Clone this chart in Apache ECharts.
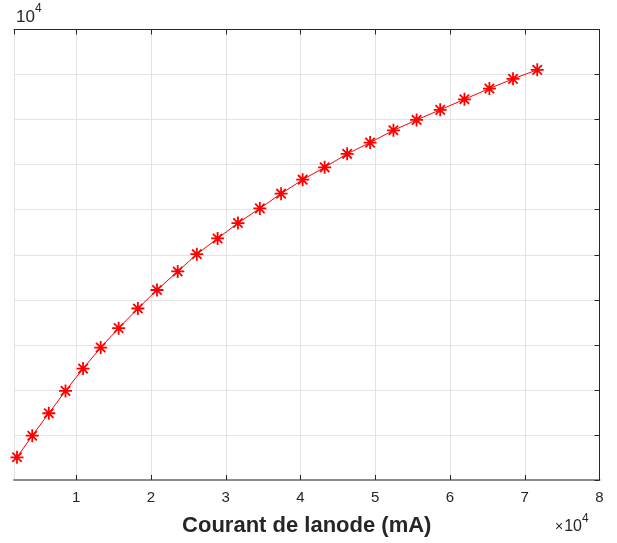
<!DOCTYPE html>
<html>
<head>
<meta charset="utf-8">
<script src="https://cdn.jsdelivr.net/npm/echarts@6/dist/echarts.min.js"></script>
<style>
html,body{margin:0;padding:0;background:#fff;}
#chart{width:617px;height:543px;}
</style>
</head>
<body>
<div id="chart"></div>
<script>
// x values (×10^4) and y values (grid units, ×10^4)
const xValues = [0.207, 0.411, 0.633, 0.856, 1.091, 1.327, 1.567, 1.824, 2.080, 2.357, 2.613, 2.891, 3.163,
  3.456, 3.740, 4.029, 4.323, 4.624, 4.931, 5.243, 5.553, 5.869, 6.193, 6.527, 6.843, 7.167];
const yValues = [0.504, 0.984, 1.482, 1.978, 2.473, 2.940, 3.371, 3.807, 4.218, 4.629, 5.013, 5.362, 5.704,
  6.029, 6.356, 6.667, 6.940, 7.240, 7.489, 7.762, 7.993, 8.216, 8.451, 8.689, 8.904, 9.104];
const xRange = [0.167, 8];
const yRange = [0, 10];
const xTitle = 'Courant de lanode (mA)';

const chart = echarts.init(document.getElementById('chart'), null, {renderer: 'canvas'});
const font = "'Liberation Sans', Arial, Helvetica, sans-serif";
const dark = '#262626';
const gridCol = '#e3e3e3';
const star = 'path://M0,-6L0,6M-6,0L6,0M-4.3,-4.3L4.3,4.3M-4.3,4.3L4.3,-4.3';

chart.setOption({
  animation: false,
  backgroundColor: '#fff',
  grid: {left: 14, right: 17.5, top: 29.5, bottom: 63, containLabel: false},
  xAxis: [{
    type: 'value', position: 'bottom', min: xRange[0], max: xRange[1], splitNumber: 8,
    axisLine: {show: true, lineStyle: {color: '#8c8c8c', width: 2}},
    axisTick: {show: true, inside: true, length: 5, lineStyle: {color: dark, width: 1}},
    axisLabel: {show: true, showMinLabel: false, margin: 10, color: dark, fontFamily: font, fontSize: 15,
      formatter: v => (Math.abs(v - Math.round(v)) < 1e-6 ? String(Math.round(v)) : '')},
    splitLine: {show: true, lineStyle: {color: gridCol, width: 1}},
    name: xTitle, nameLocation: 'middle', nameGap: 35,
    nameTextStyle: {color: dark, fontFamily: font, fontSize: 22, fontWeight: 'bold'}
  }, {
    type: 'value', position: 'top', min: xRange[0], max: xRange[1], splitNumber: 8,
    axisLine: {show: true, onZero: false, lineStyle: {color: dark, width: 1}},
    axisTick: {show: true, inside: true, length: 5, lineStyle: {color: dark}},
    axisLabel: {show: false}, splitLine: {show: false}
  }],
  yAxis: [{
    type: 'value', position: 'left', min: yRange[0], max: yRange[1], interval: 1,
    axisLine: {show: false}, axisTick: {show: false}, axisLabel: {show: false},
    splitLine: {show: true, lineStyle: {color: gridCol, width: 1}}
  }, {
    type: 'value', position: 'right', min: yRange[0], max: yRange[1], interval: 1,
    axisLine: {show: true, onZero: false, lineStyle: {color: dark, width: 1}},
    axisTick: {show: true, inside: true, length: 5, lineStyle: {color: dark}},
    axisLabel: {show: false}, splitLine: {show: false}
  }],
  graphic: [
    {type: 'text', left: 16, top: 3, style: {
      text: '{b|10}{s|4}',
      rich: {b: {fontSize: 17, fontFamily: font, fill: dark, padding: [6, 0, 0, 0]},
             s: {fontSize: 12, fontFamily: font, fill: dark, verticalAlign: 'top'}}}},
    {type: 'text', left: 555, top: 513, style: {
      text: '{x|\u00d7}{b|10}{s|4}',
      rich: {x: {fontSize: 14, fontFamily: font, fill: dark, padding: [6, 1, 0, 0]},
             b: {fontSize: 16, fontFamily: font, fill: dark, padding: [6, 0, 0, 0]},
             s: {fontSize: 12, fontFamily: font, fill: dark, verticalAlign: 'top'}}}}
  ],
  series: [{
    type: 'line', xAxisIndex: 0, yAxisIndex: 0,
    data: xValues.map((x, i) => [x, yValues[i]]),
    symbol: star, symbolSize: 13, showAllSymbol: true,
    lineStyle: {color: '#ff0000', width: 1},
    itemStyle: {color: '#ff0000', borderColor: '#ff0000', borderWidth: 1.8},
    clip: true
  }]
});
</script>
</body>
</html>
